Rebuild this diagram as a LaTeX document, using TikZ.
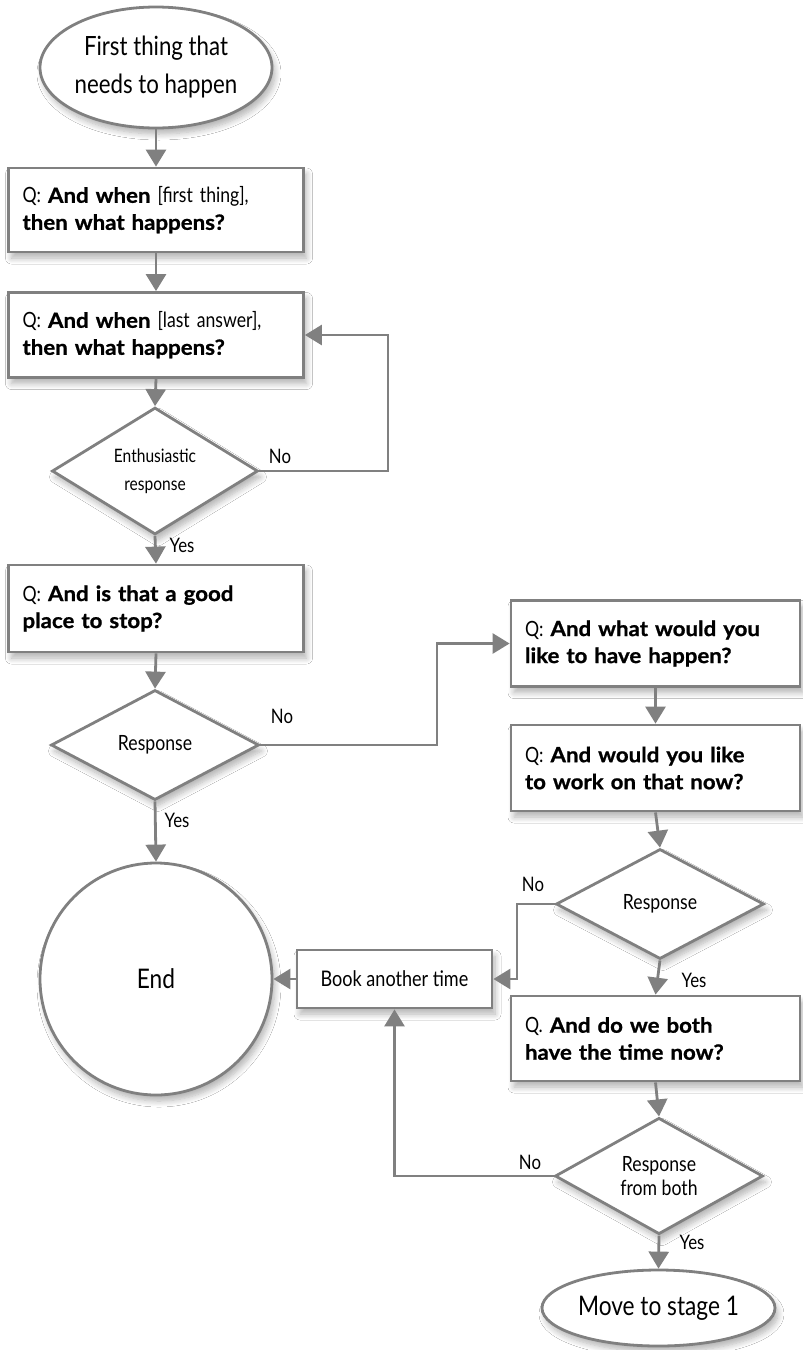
\documentclass[tikz,border=0pt]{standalone}
\usepackage{fontspec}
\setmainfont{Lato}
\newfontfamily\futreg{Lato}[FakeStretch=0.84]
\newfontfamily\futbold{Lato}[FakeStretch=1.06, BoldFeatures={FakeBold=0.9}]
\newcommand{\qbf}[1]{{\futbold\bfseries #1}}
\usetikzlibrary{arrows.meta,shapes.geometric,shadows.blur}
\definecolor{lc}{RGB}{128,128,128}
\begin{document}
\begin{tikzpicture}[x=1pt,y=-1pt,
  every node/.style={font=\futreg\fontsize{21}{27}\selectfont, text=black},
  shapebase/.style={draw=lc, line width=2.8pt, fill=white,
    blur shadow={shadow xshift=3pt, shadow yshift=-6pt, shadow blur radius=6pt, shadow blur steps=8, shadow opacity=30}},
  qbox/.style={shapebase, rectangle, inner xsep=14pt, inner ysep=0pt, align=left, text width=#1},
  qbox/.default=267pt,
  dia/.style={shapebase, diamond, inner sep=0pt, align=center},
  ell/.style={shapebase, ellipse, inner sep=0pt, align=center, font=\futreg\fontsize{26.5}{38}\selectfont},
  arr/.style={draw=lc, line width=2.8pt, -{Triangle[length=17pt,width=20pt]}},
  lbl/.style={font=\futreg\fontsize{20}{22}\selectfont, inner sep=0pt}
]
\useasboundingbox (0,0) rectangle (803,1350);
\fill[white] (0,0) rectangle (803,1350);

% nodes
\node[ell, minimum width=232pt, minimum height=121pt] (start) at (156,67.5) {First thing that\\needs to happen};
\node[qbox, minimum height=84pt] (b1) at (156,210) {Q: \qbf{And when} [first thing],\\\qbf{then what happens?}};
\node[qbox, minimum height=85pt] (b2) at (156,335) {Q: \qbf{And when} [last answer],\\\qbf{then what happens?}};
\node[dia, minimum width=206pt, minimum height=107pt, font=\futreg\fontsize{18.5}{28}\selectfont] (d1) at (155,471) {Enthusiastic\\response};
\node[qbox, minimum height=87pt] (b3) at (156,608.5) {Q: \qbf{And is that a good}\\\qbf{place to stop?}};
\node[dia, minimum width=208pt, minimum height=110pt] (d2) at (155,745) {Response};
\node[shapebase, circle, minimum size=232pt, inner sep=0pt, font=\futreg\fontsize{27}{30}\selectfont] (end) at (156,979) {End};
\node[qbox=261pt, minimum height=86pt] (b4) at (655.5,643.5) {Q: \qbf{And what would you}\\\qbf{like to have happen?}};
\node[qbox=261pt, minimum height=86pt] (b5) at (655.5,768) {Q: \qbf{And would you like}\\\qbf{to work on that now?}};
\node[dia, minimum width=208pt, minimum height=110pt] (d3) at (660,904) {Response};
\node[shapebase, rectangle, minimum width=195pt, minimum height=58pt, inner sep=0pt, font=\futreg\fontsize{21.5}{24}\selectfont] (book) at (394.5,979) {Book another time};
\node[qbox=261pt, minimum height=85pt] (b6) at (655.5,1038.5) {Q. \qbf{And do we both}\\\qbf{have the time now?}};
\node[dia, minimum width=208pt, minimum height=108pt, font=\futreg\fontsize{21}{24}\selectfont] (d4) at (659,1176) {Response\\from both};
\node[ell, minimum width=233pt, minimum height=76pt, font=\futreg\fontsize{27}{30}\selectfont] (fin) at (658.5,1308) {Move to stage 1};

% helper coordinates
\coordinate (c1) at (388,471);
\coordinate (c2) at (437,745);
\coordinate (c3) at (517,904);

% connectors
\draw[arr] (start.south) -- (b1.north);
\draw[arr] (b1.south) -- (b2.north);
\draw[arr] (b2.south) -- (d1.north);
\draw[arr] (d1.east) -- (c1) |- (b2.east);
\draw[arr] (d1.south) -- (b3.north);
\draw[arr] (b3.south) -- (d2.north);
\draw[arr] (d2.east) -- (c2) |- (b4.west);
\draw[arr] (d2.south) -- (end.north);
\draw[arr] (b4.south) -- (b5.north);
\draw[arr] (b5.south) -- (d3.north);
\draw[arr] (d3.west) -- (c3) |- (book.east);
\draw[arr] (book.west) -- (end.east);
\draw[arr] (d3.south) -- (b6.north);
\draw[arr] (b6.south) -- (d4.north);
\draw[arr] (d4.west) -| (book.south);
\draw[arr] (d4.south) -- (fin.north);

% labels
\node[lbl] (no1) at (280,456) {No};
\node[lbl] (yes1) at (182,545) {Yes};
\node[lbl] (no2) at (282,716) {No};
\node[lbl] (yes2) at (177,820) {Yes};
\node[lbl] (no3) at (533,884) {No};
\node[lbl] (yes3) at (694,980) {Yes};
\node[lbl] (no4) at (530,1162) {No};
\node[lbl] (yes4) at (692,1242) {Yes};
\end{tikzpicture}
\end{document}
